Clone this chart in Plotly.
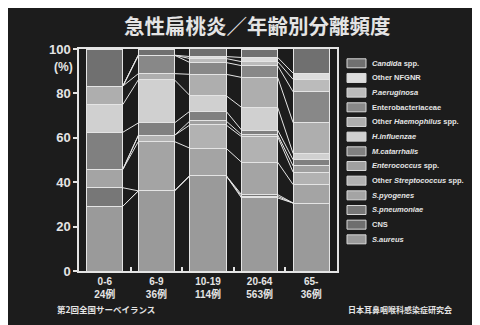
import numpy as np
import plotly.graph_objects as go

# ---------------- data ----------------
age_groups = ["0-6", "6-9", "10-19", "20-64", "65-"]
case_counts = ["24例", "36例", "114例", "563例", "36例"]

# percentages, stacked bottom -> top
s_aureus       = [29.2, 36.1, 43.0, 32.9, 30.6]
cns            = [0.0,  0.0,  0.0,  0.7,  0.0]
s_pneumoniae   = [8.3,  0.0,  0.0,  0.8,  0.0]
s_pyogenes     = [8.3,  22.2, 12.3, 14.6, 8.3]
other_strep    = [0.0,  2.8,  10.5, 11.5, 5.6]
enterococcus   = [0.0,  0.0,  1.8,  0.9,  2.8]
m_catarrhalis  = [16.7, 5.6,  4.4,  2.1,  2.8]
h_influenzae   = [12.5, 19.4, 7.0,  10.2, 2.8]
other_haemoph  = [8.3,  2.8,  9.6,  13.5, 13.9]
enterobact     = [0.0,  8.3,  5.3,  5.3,  13.9]
p_aeruginosa   = [0.0,  0.0,  1.8,  1.8,  5.6]
other_nfgnr    = [0.0,  0.0,  0.9,  1.9,  2.8]
candida        = [16.7, 2.8,  3.5,  3.8,  11.1]

series = [s_aureus, cns, s_pneumoniae, s_pyogenes, other_strep, enterococcus,
          m_catarrhalis, h_influenzae, other_haemoph, enterobact, p_aeruginosa,
          other_nfgnr, candida]
series_names = ["<i>S.aureus</i>", "CNS", "<i>S.pneumoniae</i>", "<i>S.pyogenes</i>",
                "Other <i>Streptococcus</i> spp.", "<i>Enterococcus</i> spp.",
                "<i>M.catarrhalis</i>", "<i>H.influenzae</i>",
                "Other <i>Haemophilus</i> spp.", "Enterobacteriaceae",
                "<i>P.aeruginosa</i>", "Other NFGNR", "<i>Candida</i> spp."]
colors = ["#9a9a9a", "#6e6e6e", "#777777", "#a4a4a4", "#b2b2b2", "#a0a0a0",
          "#808080", "#d0d0d0", "#aeaeae", "#888888", "#bbbbbb", "#dcdcdc",
          "#707070"]

title_text = "急性扁桃炎／年齢別分離頻度"
footer_left = "第2回全国サーベイランス"
footer_right = "日本耳鼻咽喉科感染症研究会"

# ---------------- geometry helpers (pixel -> paper) ----------------
L, R, T, B = 79, 337, 49, 271
W, H = 480, 325
def px(x):
    return (x - L) / (R - L)
def py(y):
    return (B - y) / (B - T)

fg = "#e4e4e4"
bg = "#1c1c1c"
latin = "Liberation Sans, Arial, Noto Sans CJK JP"

bar_w = 0.7
xpos = list(range(len(age_groups)))

fig = go.Figure()
for name, vals, col in zip(series_names, series, colors):
    fig.add_bar(x=xpos, y=vals, width=bar_w, name=name,
                marker=dict(color=col, line=dict(color=fg, width=1)),
                showlegend=False)

# connecting lines between adjacent bars at each cumulative boundary
cum = np.cumsum(np.array(series), axis=0)
lx, ly = [], []
for k in range(cum.shape[0] - 1):
    for i in range(len(xpos) - 1):
        lx += [xpos[i] + bar_w / 2, xpos[i + 1] - bar_w / 2, None]
        ly += [cum[k, i], cum[k, i + 1], None]
fig.add_scatter(x=lx, y=ly, mode="lines", line=dict(color=fg, width=1),
                hoverinfo="skip", showlegend=False)

shapes = [dict(type="rect", xref="paper", yref="paper",
               x0=px(8), x1=px(472), y0=py(325), y1=py(8),
               fillcolor=bg, line=dict(width=0), layer="below")]
annotations = [
    dict(text=title_text, xref="paper", yref="paper", x=px(257), y=py(25),
         xanchor="center", yanchor="middle", showarrow=False,
         font=dict(family="Noto Sans CJK JP", size=20.5, color=fg, weight="bold")),
    dict(text="(%)", xref="paper", yref="paper", x=px(75), y=py(67),
         xanchor="right", yanchor="middle", showarrow=False,
         font=dict(family=latin, size=12, color=fg, weight="bold")),
    dict(text=footer_left, xref="paper", yref="paper", x=px(106), y=py(309),
         xanchor="center", yanchor="middle", showarrow=False,
         font=dict(family="Noto Sans CJK JP", size=8.5, color=fg, weight="bold")),
    dict(text=footer_right, xref="paper", yref="paper", x=px(400), y=py(309),
         xanchor="center", yanchor="middle", showarrow=False,
         font=dict(family="Noto Sans CJK JP", size=8, color=fg, weight="bold")),
]

# custom legend (top = last series)
for j, (name, col) in enumerate(zip(series_names[::-1], colors[::-1])):
    yc = 63.3 + j * 14.67
    shapes.append(dict(type="rect", xref="paper", yref="paper",
                       x0=px(347), x1=px(366), y0=py(yc + 4.5), y1=py(yc - 4.5),
                       fillcolor=col, line=dict(color="#d8d8d8", width=1)))
    annotations.append(dict(text=name, xref="paper", yref="paper",
                            x=px(370), y=py(yc), xanchor="left", yanchor="middle",
                            showarrow=False,
                            font=dict(family="Liberation Sans, Arial",
                                      size=7.5, color=fg, weight="bold")))

fig.update_layout(
    width=W, height=H,
    margin=dict(l=L, r=W - R, t=T, b=H - B, pad=0),
    paper_bgcolor="white", plot_bgcolor=bg,
    barmode="stack", bargap=0.3,
    shapes=shapes, annotations=annotations,
    xaxis=dict(range=[-0.5, len(age_groups) - 0.5], tickmode="array",
               tickvals=xpos,
               ticktext=[f"{a}<br>{c}" for a, c in zip(age_groups, case_counts)],
               ticks="", showgrid=False, zeroline=False,
               showline=True, linecolor=fg, linewidth=1.5, mirror=True,
               tickfont=dict(family=latin, size=10, color=fg, weight="bold"),
               minor=dict(tickmode="array", tickvals=[i + 0.5 for i in xpos[:-1]],
                          ticks="inside", ticklen=4, tickcolor=fg, tickwidth=1.5,
                          showgrid=False)),
    yaxis=dict(range=[0, 100], tickmode="array", tickvals=[0, 20, 40, 60, 80, 100],
               ticks="outside", ticklen=4, tickcolor=fg, tickwidth=1.5,
               showgrid=False, zeroline=False,
               showline=True, linecolor=fg, linewidth=1.5, mirror=True,
               tickfont=dict(family=latin, size=13, color=fg, weight="bold")),
)

fig.write_html("out.html")
